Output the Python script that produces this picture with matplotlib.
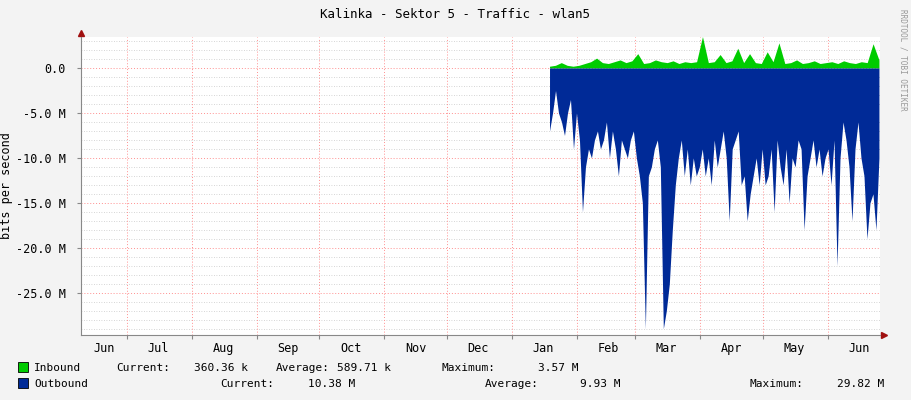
import matplotlib.pyplot as plt
import matplotlib.dates as mdates
import numpy as np
import datetime as dt

# values in M bits/s
outbound = [7, 5, 2.5, 5, 6, 7.5, 5, 3.5, 9, 5,
            8, 16, 11, 9, 10, 8, 7, 9,
            8, 6, 10, 7, 9, 12, 8, 9, 10, 8, 7,
            10, 12, 15, 29, 12, 11, 9, 8, 11, 29, 27,
            24, 18, 13, 10, 8, 12, 9, 13, 10, 12, 11,
            9, 12, 10, 13, 8, 11, 9, 7, 10, 17, 9,
            8, 7, 13, 12, 17, 14, 12, 10, 13, 9,
            13, 12, 9, 16, 8, 11, 13, 9, 15, 10, 11, 8,
            9, 18, 12, 10, 8, 11, 9, 12, 10, 9,
            13, 8, 22, 10, 6, 8, 11, 17, 9, 6, 10, 12, 19, 15, 14, 18, 10]
inbound = [0.2, 0.3, 0.6, 0.3, 0.2, 0.3, 0.5, 0.7, 1.1, 0.6, 0.5, 0.7, 0.9, 0.6,
           0.8, 1.6, 0.5, 0.6, 0.9, 0.7, 0.6, 0.8, 0.5, 0.7, 0.6, 0.7, 3.5, 0.6,
           0.7, 1.5, 0.6, 0.8, 2.2, 0.6, 1.6, 0.6, 0.5, 1.8, 0.7, 2.8, 0.5, 0.6,
           0.9, 0.5, 0.6, 0.8, 0.5, 0.6, 0.7, 0.5, 0.8, 0.6, 0.5, 0.7, 0.6, 2.7, 0.9]
months = ['Jun', 'Jul', 'Aug', 'Sep', 'Oct', 'Nov', 'Dec',
          'Jan', 'Feb', 'Mar', 'Apr', 'May', 'Jun']

start = dt.datetime(2022, 6, 9)
end = dt.datetime(2023, 6, 26)
d0 = mdates.date2num(dt.datetime(2023, 1, 19))
d1 = mdates.date2num(dt.datetime(2023, 6, 25, 12))
xo = np.linspace(d0, d1, len(outbound))
xi = np.linspace(d0, d1, len(inbound))

fig = plt.figure(figsize=(9.11, 4.0), dpi=100, facecolor='#f3f3f3')
ax = fig.add_axes([81 / 911, 1 - 335 / 400, 799 / 911, 298 / 400])
ax.set_facecolor('white')
mono = 'DejaVu Sans Mono'

ax.fill_between(xi, 0, inbound, color='#00cc00', linewidth=0)
ax.fill_between(xo, 0, -np.array(outbound), color='#002a97', linewidth=0)
ax.fill_between([d0, d1], 0, 0.15, color='#00cc00', linewidth=0)

ax.set_xlim(mdates.date2num(start), mdates.date2num(end))
ax.set_ylim(-29.7, 3.45)

# grid
for m in range(0, 6):
    ax.axhline(-5 * m, color='#ff9090', ls=(0, (1, 2)), lw=0.7, zorder=0)
for v in np.arange(-29, 4, 1):
    if v % 5:
        ax.axhline(v, color='#c8c8c8', ls=(0, (1, 2)), lw=0.6, zorder=0)
month_starts = [dt.datetime(2022, m, 1) for m in range(7, 13)] + \
               [dt.datetime(2023, m, 1) for m in range(1, 7)]
for d in month_starts:
    ax.axvline(mdates.date2num(d), color='#ff9090', ls=(0, (1, 2)), lw=0.7, zorder=0)

ax.set_yticks([0, -5, -10, -15, -20, -25])
ax.set_yticklabels(['0.0', '-5.0 M', '-10.0 M', '-15.0 M', '-20.0 M', '-25.0 M'],
                   family=mono, fontsize=8.5)
mids = [dt.datetime(2022, 6, 20)] + [d + dt.timedelta(days=15) for d in month_starts]
ax.set_xticks([mdates.date2num(d) for d in month_starts])
ax.set_xticklabels([])
ax.set_xticks([mdates.date2num(d) for d in mids], minor=True)
ax.set_xticklabels(months, minor=True, family=mono, fontsize=8.5)
ax.tick_params(axis='x', which='minor', length=0, pad=5)
ax.tick_params(axis='x', which='major', length=3, color='#888888')
ax.tick_params(axis='y', length=3, color='#888888', pad=8)
for s in ['top', 'right']:
    ax.spines[s].set_visible(False)
ax.spines['left'].set_color('#888888')
ax.spines['bottom'].set_color('#888888')
ax.plot([1.005], [0], marker='>', color='#a01010', ms=5, transform=ax.transAxes, clip_on=False)
ax.plot([0], [1.015], marker='^', color='#a01010', ms=5, transform=ax.transAxes, clip_on=False)

ax.set_ylabel('bits per second', family=mono, fontsize=8.5, labelpad=2)
fig.text(0.5, 1 - 14 / 400, 'Kalinka - Sektor 5 - Traffic - wlan5', ha='center', va='center',
         family=mono, fontsize=9)
fig.text(903 / 911, 1 - 60 / 400, 'RRDTOOL / TOBI OETIKER', rotation=270, ha='center', va='center',
         family=mono, fontsize=5.5, color='#999999')

# legend
def put(x, y, s):
    fig.text(x / 911, 1 - y / 400, s, family=mono, fontsize=8, va='center')

fig.patches.append(plt.Rectangle((18 / 911, 1 - 372 / 400), 10 / 911, 10 / 400,
                                 transform=fig.transFigure, fc='#00cc00', ec='black', lw=0.6))
fig.patches.append(plt.Rectangle((18 / 911, 1 - 388 / 400), 10 / 911, 10 / 400,
                                 transform=fig.transFigure, fc='#002a97', ec='black', lw=0.6))
put(34, 368, 'Inbound')
put(116, 368, 'Current:')
put(194, 368, '360.36 k')
put(276, 368, 'Average:')
put(337, 368, '589.71 k')
put(441, 368, 'Maximum:')
put(538, 368, '3.57 M')
put(34, 384, 'Outbound')
put(220, 384, 'Current:')
put(308, 384, '10.38 M')
put(485, 384, 'Average:')
put(580, 384, '9.93 M')
put(750, 384, 'Maximum:')
put(837, 384, '29.82 M')

fig.savefig('out.png', dpi=100, facecolor=fig.get_facecolor())
